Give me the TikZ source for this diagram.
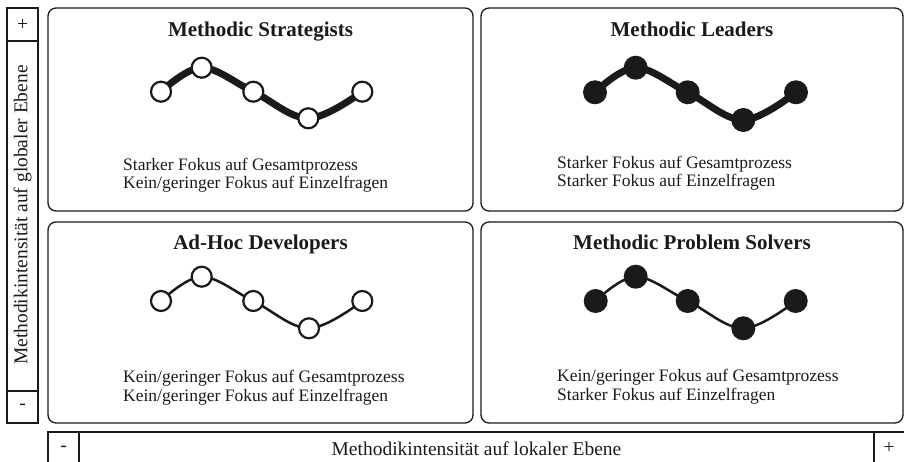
\documentclass[tikz,border=0pt]{standalone}
\usepackage{fontspec}
\setmainfont{Liberation Serif}
\usetikzlibrary{backgrounds}
\definecolor{ink}{HTML}{1A1A1A}
\tikzset{
  quad/.style={draw=ink, line width=1.3bp, rounded corners=8bp},
  axisbox/.style={draw=ink, line width=1.2bp},
  title/.style={font=\fontsize{21bp}{23bp}\selectfont\bfseries, text=ink, anchor=base, inner sep=0},
  body/.style={font=\fontsize{17.5bp}{18.8bp}\selectfont, text=ink, anchor=base west, align=left, inner sep=0},
  axistext/.style={font=\fontsize{19.5bp}{21bp}\selectfont, text=ink, inner sep=0},
  opendot/.style={circle, draw=ink, line width=2.2bp, fill=white, inner sep=0, minimum size=20bp},
  fulldot/.style={circle, fill=ink, inner sep=0, minimum size=24bp},
  thickwave/.style={draw=ink, line width=7bp},
  thinwave/.style={draw=ink, line width=2.5bp},
}
\begin{document}
\begin{tikzpicture}[x=1bp, y=-1bp]
\useasboundingbox (0,0) rectangle (904,462);

% quadrants
\draw[quad] (48,8) rectangle (473,211);
\draw[quad] (481,8) rectangle (903,211);
\draw[quad] (48,222) rectangle (473,423);
\draw[quad] (481,222) rectangle (903,423);

% left axis
\draw[axisbox] (7,8) rectangle (38,423);
\draw[axisbox] (7,41) -- (38,41);
\draw[axisbox] (7,391) -- (38,391);
\node[axistext] (lplus) at (22.5,24.5) {+};
\node[axistext] (lminus) at (22.5,407) {-};
\node[axistext, rotate=90] (laxis) at (22.5,215) {Methodikintensität auf globaler Ebene};

% bottom axis
\draw[axisbox] (48,470) -- (48,432) -- (910,432);
\draw[axisbox] (79,432) -- (79,470);
\draw[axisbox] (874,432) -- (874,470);
\node[axistext] (bminus) at (63.5,449) {-};
\node[axistext] (bplus) at (889,448) {+};
\node[axistext] (baxis) at (476.5,449) {Methodikintensität auf lokaler Ebene};

% titles
\node[title] (t1) at (260.5,37) {Methodic Strategists};
\node[title] (t2) at (692,37) {Methodic Leaders};
\node[title] (t3) at (260.5,250) {Ad-Hoc Developers};
\node[title] (t4) at (692,250) {Methodic Problem Solvers};

% texts (anchor = baseline of the last line)
\node[body] (x1) at (123,189) {Starker Fokus auf Gesamtprozess\\Kein/geringer Fokus auf Einzelfragen};
\node[body] (x2) at (557,187) {Starker Fokus auf Gesamtprozess\\Starker Fokus auf Einzelfragen};
\node[body] (x3) at (123,401) {Kein/geringer Fokus auf Gesamtprozess\\Kein/geringer Fokus auf Einzelfragen};
\node[body] (x4) at (557,400) {Kein/geringer Fokus auf Gesamtprozess\\Starker Fokus auf Einzelfragen};

% Methodic Strategists
\node[opendot] (a1) at (161,91.7) {};
\node[opendot] (a2) at (201.7,67.7) {};
\node[opendot] (a3) at (253.3,91.7) {};
\node[opendot] (a4) at (308.3,118.3) {};
\node[opendot] (a5) at (362.3,91.7) {};
% Methodic Leaders
\node[fulldot] (b1) at (595,92.3) {};
\node[fulldot] (b2) at (635.7,67.7) {};
\node[fulldot] (b3) at (687.7,92.3) {};
\node[fulldot] (b4) at (743.3,120) {};
\node[fulldot] (b5) at (796,92.3) {};
% Ad-Hoc Developers
\node[opendot] (c1) at (161,301) {};
\node[opendot] (c2) at (201.7,276.7) {};
\node[opendot] (c3) at (253.3,301) {};
\node[opendot] (c4) at (309,328.3) {};
\node[opendot] (c5) at (362.3,301) {};
% Methodic Problem Solvers
\node[fulldot] (d1) at (595.7,301) {};
\node[fulldot] (d2) at (635.7,276.7) {};
\node[fulldot] (d3) at (687.7,301) {};
\node[fulldot] (d4) at (743.3,328.3) {};
\node[fulldot] (d5) at (795.7,301) {};

\begin{scope}[on background layer]
\draw[thickwave] plot[smooth, tension=0.6] coordinates {(a1.center) (a2.center) (a3.center) (a4.center) (a5.center)};
\draw[thickwave] plot[smooth, tension=0.6] coordinates {(b1.center) (b2.center) (b3.center) (b4.center) (b5.center)};
\draw[thinwave] plot[smooth, tension=0.6] coordinates {(c1.center) (c2.center) (c3.center) (c4.center) (c5.center)};
\draw[thinwave] plot[smooth, tension=0.6] coordinates {(d1.center) (d2.center) (d3.center) (d4.center) (d5.center)};
\end{scope}
\end{tikzpicture}
\end{document}
